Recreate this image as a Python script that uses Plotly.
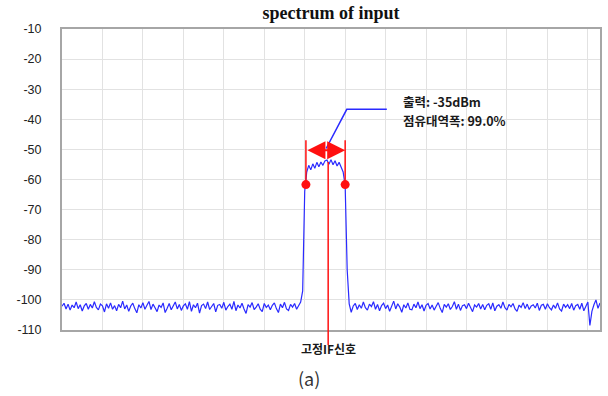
import numpy as np
import plotly.graph_objects as go

# frequency grid (one grid division = 1 unit), 0.05-unit bins
step = 0.05

left_noise = [
    -102.1, -101.1, -103.0, -101.4, -103.4, -101.7, -102.6, -100.7, -102.9, -101.6,
    -103.7, -102.0, -101.2, -103.1, -101.5, -102.7, -100.6, -102.5, -103.3, -101.4,
    -102.0, -104.0, -101.3, -102.8, -101.0, -103.1, -101.9, -103.6, -101.5, -102.6,
    -100.4, -103.0, -101.7, -103.8, -102.0, -101.1, -102.9, -104.3, -101.6, -102.7,
    -100.9, -103.1, -101.8, -100.5, -103.2, -101.4, -102.6, -103.9, -101.7, -102.5,
    -101.0, -104.2, -102.8, -101.2, -103.3, -101.8, -100.7, -103.0, -101.5, -103.5,
    -102.0, -101.3, -103.1, -100.6, -103.8, -101.6, -102.6, -101.1, -104.4, -101.9,
    -101.4, -102.9, -100.7, -103.2, -102.1, -101.2, -104.0, -101.8, -101.5, -102.8,
    -100.8, -103.4, -102.2, -101.4, -103.1, -100.5, -103.6, -101.7, -102.7, -101.1,
    -103.0, -104.5, -101.6, -102.4, -100.9, -103.2, -102.4, -101.3, -103.1, -103.9,
    -101.2, -102.5, -101.7, -103.3, -101.8, -101.0, -102.9, -104.2, -101.4, -102.6,
    -100.8, -103.0, -103.5, -101.5, -102.4, -101.2, -103.1, -101.6, -100.7, -97.0,
]

signal_band = [
    -64.0, -57.5, -55.3, -56.8, -54.8, -56.3, -54.3, -55.8, -54.2, -55.3,
    -53.8, -53.5, -54.9, -53.4, -55.1, -53.8, -55.5, -54.3, -56.2, -57.5,
    -62.0,
]

right_noise = [
    -90.0, -101.3, -104.1, -102.0, -101.2, -103.2, -101.6, -102.8, -100.7, -102.6,
    -103.4, -101.4, -102.2, -100.6, -103.1, -101.5, -103.6, -101.9, -101.1, -102.9,
    -101.7, -103.8, -102.1, -100.4, -103.0, -101.3, -102.4, -104.1, -101.6, -102.7,
    -101.0, -103.1, -103.3, -101.4, -102.6, -100.7, -102.9, -101.6, -103.7, -101.8,
    -101.2, -103.0, -101.7, -103.4, -102.1, -100.9, -102.8, -104.2, -101.5, -102.4,
    -101.3, -103.2, -102.2, -100.6, -103.1, -101.4, -103.5, -101.9, -101.6, -102.9,
    -101.1, -102.7, -103.9, -101.7, -102.4, -101.2, -103.0, -101.5, -103.3, -101.8,
    -101.3, -103.1, -101.0, -103.6, -102.1, -101.6, -102.8, -100.7, -102.6, -103.4,
    -101.5, -102.3, -101.2, -103.0, -103.8, -101.7, -102.5, -100.9, -102.9, -101.4,
    -103.2, -102.0, -101.6, -102.7, -101.1, -103.5, -101.8, -101.5, -103.1, -101.3,
    -102.6, -103.3, -101.7, -102.8, -101.0, -103.0, -103.7, -101.4, -102.5, -101.6,
    -102.9, -101.2, -103.4, -101.9, -101.5, -103.1, -101.1, -103.6, -102.0, -100.7,
    -108.5, -103.8, -101.6, -100.0, -102.8, -101.0,
]

levels = left_noise + signal_band + right_noise
freq = np.arange(len(levels)) * step

y_ticks = [-10, -20, -30, -40, -50, -60, -70, -80, -90, -100, -110]

# occupied bandwidth markers
obw_lo, obw_hi = 6.03, 7.0
obw_level = -61.7
obw_top = -47.0
arrow_level = -50.3
center_freq = 6.58
callout_x = [6.53, 7.04, 8.03]
callout_y = [-49.7, -36.7, -36.7]

red = "#ff1010"
blue = "#2a2aff"

fig = go.Figure()
fig.add_trace(go.Scatter(x=freq, y=levels, mode="lines",
                         line=dict(color=blue, width=1.2), hoverinfo="skip"))
# vertical red limit lines
for xv in (obw_lo, obw_hi):
    fig.add_trace(go.Scatter(x=[xv, xv], y=[obw_top, obw_level], mode="lines",
                             line=dict(color=red, width=1.5), hoverinfo="skip"))
# red dots
fig.add_trace(go.Scatter(x=[obw_lo, obw_hi], y=[obw_level, obw_level], mode="markers",
                         marker=dict(color=red, size=9), hoverinfo="skip"))
# blue callout leader
fig.add_trace(go.Scatter(x=callout_x, y=callout_y, mode="lines",
                         line=dict(color=blue, width=1.5), hoverinfo="skip"))

# double-headed arrow
fig.add_annotation(x=obw_hi, y=arrow_level, ax=obw_lo, ay=arrow_level,
                   xref="x", yref="y", axref="x", ayref="y", text="",
                   showarrow=True, arrowhead=2, arrowside="end+start",
                   arrowsize=1.8, arrowwidth=2, arrowcolor=red)

# centre line extending below the plot
fig.add_shape(type="line", xref="x", yref="paper", x0=center_freq, x1=center_freq,
              y0=(330 - 162) / 301, y1=-0.05, line=dict(color=red, width=1.5))

txt_font = dict(family="Noto Sans CJK KR", size=12.5, color="#1a1a1a")
fig.add_annotation(x=8.38, y=-34.2, xref="x", yref="y", text="<b>출력: -35dBm</b>",
                   showarrow=False, xanchor="left", yanchor="middle", font=txt_font)
fig.add_annotation(x=8.38, y=-40.5, xref="x", yref="y", text="<b>점유대역폭: 99.0%</b>",
                   showarrow=False, xanchor="left", yanchor="middle", font=txt_font)
fig.add_annotation(x=center_freq, y=-0.063, xref="x", yref="paper", text="<b>고정IF신호</b>",
                   showarrow=False, xanchor="center", yanchor="middle",
                   font=dict(family="Noto Sans CJK KR", size=12, color="#1a1a1a"))
fig.add_annotation(x=6.11, y=-0.159, xref="x", yref="paper", text="(a)",
                   showarrow=False, xanchor="center", yanchor="middle",
                   font=dict(family="Noto Sans CJK KR", size=18, color="#333"))

fig.update_layout(
    width=608, height=396,
    margin=dict(l=62, r=6, t=29, b=66),
    paper_bgcolor="white", plot_bgcolor="white",
    showlegend=False,
    title=dict(text="<b>spectrum of input</b>", x=0.5, xref="paper",
               y=1 - 13 / 396, yref="container", yanchor="middle", xanchor="center",
               font=dict(family="Liberation Serif", size=18, color="#111")),
    xaxis=dict(range=[0, 13.3], dtick=1, tick0=0, showticklabels=False,
               showgrid=True, gridcolor="#e2e2e2", gridwidth=1, zeroline=False,
               showline=True, linecolor="#a6a6a6", linewidth=2, mirror=True, ticks=""),
    yaxis=dict(range=[-110, -10], tickvals=y_ticks, ticktext=[str(v) for v in y_ticks],
               showgrid=True, gridcolor="#e2e2e2", gridwidth=1, zeroline=False,
               showline=True, linecolor="#a6a6a6", linewidth=2, mirror=True,
               ticks="", ticklabelstandoff=16,
               tickfont=dict(family="Liberation Sans", size=12.5, color="#222")),
)

fig.write_html("out.html")
